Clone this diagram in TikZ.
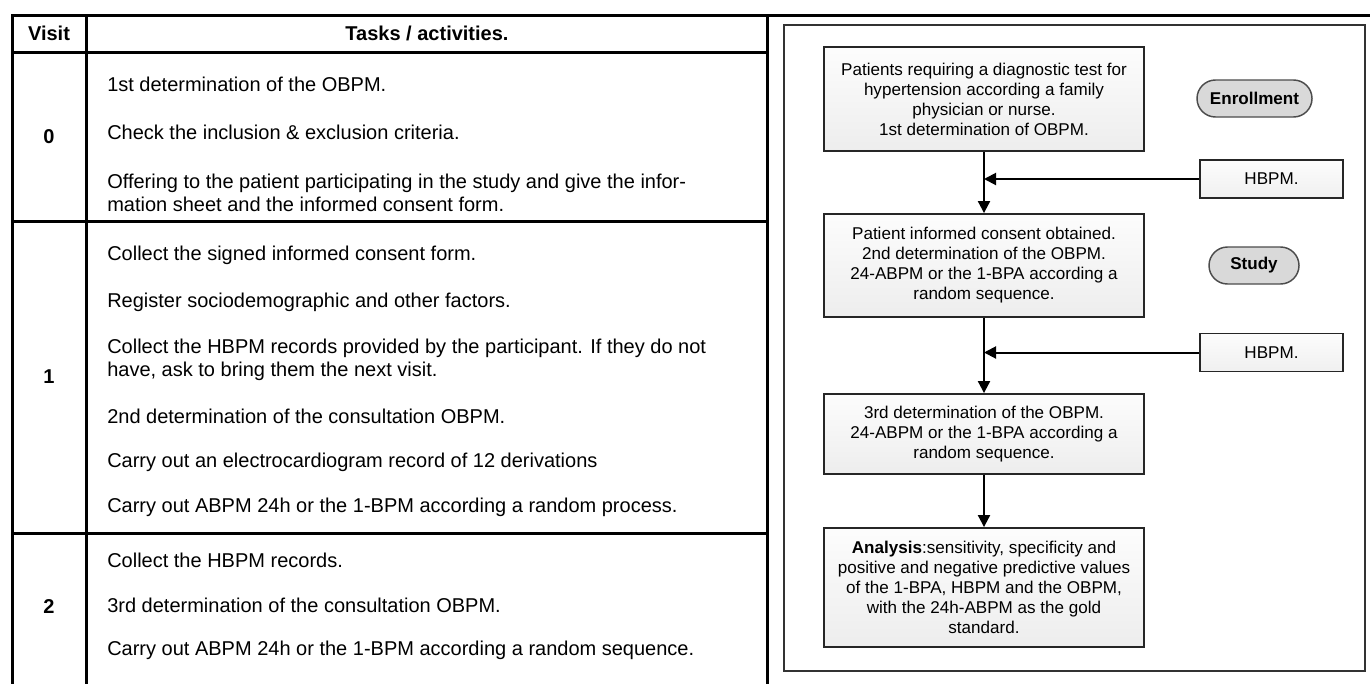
\documentclass[tikz,border=0pt]{standalone}
\usepackage{fontspec}
\setmainfont{Liberation Sans}
\usetikzlibrary{arrows.meta,shapes.misc}
\begin{document}
\begin{tikzpicture}[x=0.75pt,y=-0.75pt,
  tline/.style={line width=2.25pt, line cap=rect},
  cell/.style={anchor=west, align=left, inner sep=0pt, font=\fontsize{15}{17.25}\selectfont},
  visitnum/.style={inner sep=0pt, font=\fontsize{15}{18}\selectfont\bfseries},
  flowbox/.style={draw=black!85, line width=1.4pt, top color=gray!2, bottom color=gray!14, minimum width=240pt, align=center, inner sep=0pt, font=\fontsize{12.8}{15}\selectfont},
  sidebox/.style={draw=black!85, line width=1.4pt, top color=gray!2, bottom color=gray!12, minimum width=107.25pt, minimum height=28.5pt, inner sep=0pt, font=\fontsize{12.8}{15}\selectfont},
  phase/.style={rounded rectangle, draw=black!70, line width=1.1pt, fill=gray!30, minimum height=27.75pt, inner sep=0pt, font=\fontsize{12.8}{15}\selectfont\bfseries},
  arr/.style={line width=1.5pt, -{Triangle[length=9pt,width=9pt]}}
]
\useasboundingbox[fill=white] (0,0) rectangle (1370,683);

% table grid
\draw[tline] (12,15) -- (1370,15);
\draw[tline] (12,15) -- (12,683);
\draw[tline] (86,15) -- (86,683);
\draw[tline] (767,15) -- (767,683);
\draw[tline] (12,52) -- (767,52);
\draw[tline] (12,221) -- (767,221);
\draw[tline] (12,533) -- (767,533);

% header
\node[visitnum] (hv) at (49,33) {Visit};
\node[visitnum] (ht) at (427,33) {Tasks / activities.};

% visit numbers
\node[visitnum] (v0) at (49,137) {0};
\node[visitnum] (v1) at (49,377) {1};
\node[visitnum] (v2) at (49,607) {2};

% row 0
\node[cell] (t01) at (107,84) {1st determination of the OBPM.};
\node[cell] (t02) at (107,132) {Check the inclusion \& exclusion criteria.};
\node[cell] (t03) at (107,192.5) {Offering to the patient participating in the study and give the infor-\\mation sheet and the informed consent form.};
% row 1
\node[cell] (t11) at (107,255) {Collect the signed informed consent form.};
\node[cell] (t12) at (107,302) {Register sociodemographic and other factors.};
\node[cell] (t13) at (107,360) {Collect the HBPM records provided by the participant. If they do not\\have, ask to bring them the next visit.};
\node[cell] (t14) at (107,416) {2nd determination of the consultation OBPM.};
\node[cell] (t15) at (107,462) {Carry out an electrocardiogram record of 12 derivations};
\node[cell] (t16) at (107,507) {Carry out ABPM 24h or the 1-BPM according a random process.};
% row 2
\node[cell] (t21) at (107,560) {Collect the HBPM records.};
\node[cell] (t22) at (107,605) {3rd determination of the consultation OBPM.};
\node[cell] (t23) at (107,650) {Carry out ABPM 24h or the 1-BPM according a random sequence.};

% flowchart panel
\draw[draw=black!80, line width=1.2pt] (784,25) rectangle (1365,671);

\node[flowbox, minimum height=78pt] (b1) at (984,99) {Patients requiring a diagnostic test for\\hypertension according a family\\physician or nurse.\\1st determination of OBPM.};
\node[flowbox, minimum height=77.25pt] (b2) at (984,265.5) {Patient informed consent obtained.\\2nd determination of the OBPM.\\24-ABPM or the 1-BPA according a\\random sequence.};
\node[flowbox, minimum height=60pt] (b3) at (984,434) {3rd determination of the OBPM.\\24-ABPM or the 1-BPA according a\\random sequence.};
\node[flowbox, minimum height=89.25pt] (b4) at (984,587.5) {\textbf{Analysis}:sensitivity, specificity and\\positive and negative predictive values\\of the 1-BPA, HBPM and the OBPM,\\with the 24h-ABPM as the gold\\standard.};

\node[sidebox] (h1) at (1271.5,179) {HBPM.};
\node[sidebox] (h2) at (1271.5,352.5) {HBPM.};

\node[phase, minimum width=86.25pt] (en) at (1254.5,98.5) {Enrollment};
\node[phase, minimum width=67.5pt] (st) at (1254,265.5) {Study};

\draw[arr] (b1.south) -- (b2.north);
\draw[arr] (h1.west) -- (h1.west -| b1.south);
\draw[arr] (b2.south) -- (b3.north);
\draw[arr] (h2.west) -- (h2.west -| b2.south);
\draw[arr] (b3.south) -- (b4.north);
\end{tikzpicture}
\end{document}
